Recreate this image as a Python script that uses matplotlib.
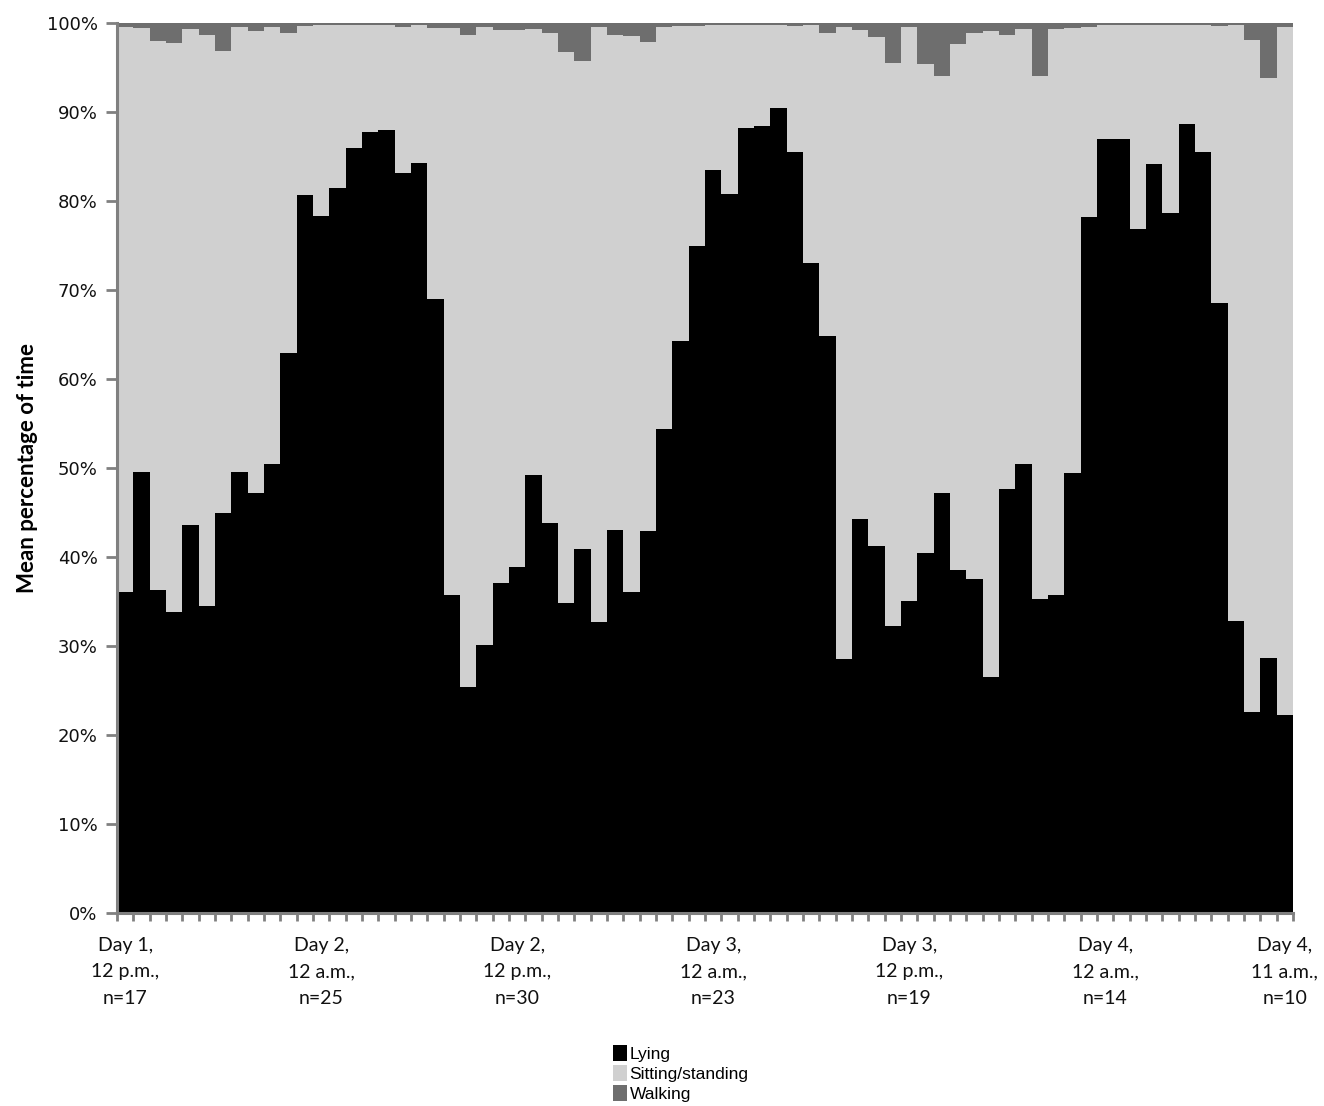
import matplotlib
matplotlib.use("Agg")
from matplotlib import pyplot as plt
from matplotlib.ticker import FixedLocator, FuncFormatter
import numpy as np

# hourly means, Day 1 12 p.m. -> Day 4 11 a.m. (72 hours)
lying = [36.1, 49.6, 36.3, 33.8, 43.6, 34.5, 45.0, 49.6, 47.2, 50.4,
         62.9, 80.7, 78.3, 81.5, 85.9, 87.8, 88.0, 83.1, 84.3, 69.0,
         35.7, 25.4, 30.1, 37.1, 38.9, 49.2, 43.8, 34.8, 40.9, 32.7,
         43.0, 36.1, 42.9, 54.4, 64.3, 75.0, 83.5, 80.8, 88.2, 88.4,
         90.5, 85.5, 73.0, 64.8, 28.5, 44.3, 41.2, 32.3, 35.1, 40.4,
         47.2, 38.5, 37.5, 26.5, 47.6, 50.4, 35.3, 35.7, 49.4, 78.2,
         87.0, 87.0, 76.8, 84.2, 78.6, 88.6, 85.5, 68.5, 32.8, 22.6,
         28.7, 22.2]
sitting = [63.5, 49.8, 61.7, 64.0, 55.7, 64.2, 51.9, 50.0, 51.9, 49.2,
           36.0, 19.0, 21.5, 18.3, 13.9, 12.0, 11.8, 16.5, 15.5, 30.4,
           63.7, 73.2, 69.4, 62.1, 60.3, 50.1, 55.1, 61.9, 54.8, 66.8,
           55.7, 62.4, 55.0, 45.2, 35.4, 24.7, 16.3, 19.0, 11.6, 11.4,
           9.3, 14.2, 26.8, 34.1, 71.0, 54.9, 57.2, 63.2, 64.4, 55.0,
           46.8, 59.1, 61.4, 72.6, 51.1, 48.9, 58.7, 63.6, 50.0, 21.3,
           12.8, 12.8, 23.0, 15.6, 21.2, 11.2, 14.3, 31.2, 67.0, 75.5,
           65.1, 77.3]
walking = [0.4, 0.6, 2.0, 2.2, 0.7, 1.3, 3.1, 0.4, 0.9, 0.4,
           1.1, 0.3, 0.2, 0.2, 0.2, 0.2, 0.2, 0.4, 0.2, 0.6,
           0.6, 1.4, 0.5, 0.8, 0.8, 0.7, 1.1, 3.3, 4.3, 0.5,
           1.3, 1.5, 2.1, 0.4, 0.3, 0.3, 0.2, 0.2, 0.2, 0.2,
           0.2, 0.3, 0.2, 1.1, 0.5, 0.8, 1.6, 4.5, 0.5, 4.6,
           6.0, 2.4, 1.1, 0.9, 1.3, 0.7, 6.0, 0.7, 0.6, 0.5,
           0.2, 0.2, 0.2, 0.2, 0.2, 0.2, 0.2, 0.3, 0.2, 1.9,
           6.2, 0.5]

label_pos = [0, 12, 24, 36, 48, 60, 71]
label_txt = ["Day 1,\n12 p.m.,\nn=17", "Day 2,\n12 a.m.,\nn=25",
             "Day 2,\n12 p.m.,\nn=30", "Day 3,\n12 a.m.,\nn=23",
             "Day 3,\n12 p.m.,\nn=19", "Day 4,\n12 a.m.,\nn=14",
             "Day 4,\n11 a.m.,\nn=10"]

x = np.arange(len(lying))
lying = np.array(lying)
sitting = np.array(sitting)
walking = np.array(walking)

fig = plt.figure(figsize=(13.24, 11.06), dpi=100)
ax = fig.add_axes([117 / 1324, 1 - 913 / 1106, 1176 / 1324, 890 / 1106])

b1 = ax.bar(x, lying, width=1.0, color="#000000", linewidth=0, label="Lying")
b2 = ax.bar(x, sitting, width=1.0, bottom=lying, color="#d0d0d0",
            linewidth=0, label="Sitting/standing")
b3 = ax.bar(x, walking, width=1.0, bottom=lying + sitting, color="#6e6e6e",
            linewidth=0, label="Walking")

ax.set_xlim(-0.5, len(lying) - 0.5)
ax.set_ylim(0, 100)

grey = "#808080"
for s in ["top", "right"]:
    ax.spines[s].set_visible(False)
for s in ["left", "bottom"]:
    ax.spines[s].set_color(grey)
    ax.spines[s].set_linewidth(2.2)

# y axis
ax.set_yticks(np.arange(0, 101, 10))
ax.yaxis.set_major_formatter(FuncFormatter(lambda v, p: "%d%%" % v))
ax.tick_params(axis="y", length=8, width=2, color=grey, pad=6,
               labelsize=13, labelcolor="#111111")
ax.set_ylabel("Mean percentage of time", fontsize=16, fontweight="bold",
              family=["Lato", "DejaVu Sans"], labelpad=6)

# x axis: tick marks at every bar edge, labels every 12 h
ax.xaxis.set_minor_locator(FixedLocator(np.arange(-0.5, len(lying), 1.0)))
ax.tick_params(axis="x", which="minor", length=6, width=2, color=grey)
ax.set_xticks(label_pos)
ax.set_xticklabels(label_txt, family=["Lato", "DejaVu Sans"], fontsize=14,
                   linespacing=1.7, color="#111111")
ax.tick_params(axis="x", which="major", length=0, pad=17)

fig.legend(handles=[b1, b2, b3], loc="upper left",
           bbox_to_anchor=(613 / 1324, 1 - 1045 / 1106), frameon=False,
           handlelength=0.8, handleheight=1.0, handletextpad=0.15,
           labelspacing=0.2, borderpad=0, borderaxespad=0,
           prop={"family": ["Liberation Sans Narrow", "Liberation Sans"],
                 "size": 12.5})

fig.savefig("out.png", dpi=100)
